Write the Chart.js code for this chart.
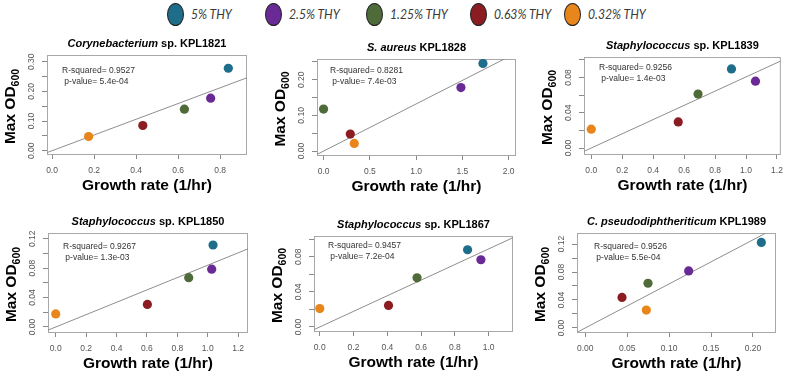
<!DOCTYPE html>
<html>
<head>
<meta charset="utf-8">
<script src="https://cdn.jsdelivr.net/npm/chart.js@4/dist/chart.umd.min.js"></script>
<style>
  body { margin: 0; background: #fff; width: 787px; height: 375px; position: relative; overflow: hidden; }
  canvas { position: absolute; }
  .bola { position: absolute; width: 17px; height: 23px; border: 1px solid #222; border-radius: 50%; box-sizing: border-box; }
  .etiq { position: absolute; font: italic 13.5px Lato, sans-serif; color: #3a3a3a; transform-origin: left center; transform: scaleX(0.9); white-space: nowrap; }
</style>
</head>
<body>
<script>
// Concentraciones de timidina y sus colores
const concentraciones = ["5% THY", "2.5% THY", "1.25% THY", "0.63% THY", "0.32% THY"];
const colores = ["#1d6d8b", "#6a2a95", "#4f6b3a", "#8b1d22", "#e8861c"];

// Nombre de cada cepa (parte en cursiva + resto)
const cepaCursiva = ["Corynebacterium", "S. aureus", "Staphylococcus", "Staphylococcus", "Staphylococcus", "C. pseudodiphtheriticum"];
const cepaResto = ["sp. KPL1821", "KPL1828", "sp. KPL1839", "sp. KPL1850", "sp. KPL1867", "KPL1989"];

// Tasa de crecimiento (1/hr) y OD600 maxima, en el orden de las concentraciones
const tasa1821 = [0.839, 0.755, 0.630, 0.432, 0.174];
const od1821   = [0.278, 0.177, 0.140, 0.085, 0.048];
const tasa1828 = [1.723, 1.485, 0.000, 0.289, 0.332];
const od1828   = [0.2456, 0.178, 0.1176, 0.0476, 0.0215];
const tasa1839 = [0.906, 1.061, 0.690, 0.562, 0.000];
const od1839   = [0.0897, 0.0758, 0.0612, 0.0296, 0.0214];
const tasa1850 = [1.035, 1.026, 0.875, 0.603, 0.000];
const od1850   = [0.1115, 0.0786, 0.0671, 0.0307, 0.0178];
const tasa1867 = [0.875, 0.954, 0.576, 0.407, 0.000];
const od1867   = [0.088, 0.0766, 0.056, 0.0245, 0.021];
const tasa1989 = [0.210, 0.1233, 0.0748, 0.0438, 0.0728];
const od1989   = [0.1223, 0.0816, 0.0639, 0.0437, 0.0255];

// Ajuste lineal (pendiente de la recta) y estadisticos
const pendientes = [0.265, 0.132, 0.0806, 0.084, 0.089, 0.63];
const rCuadrado = ["0.9527", "0.8281", "0.9256", "0.9267", "0.9457", "0.9526"];
const pValor = ["5.4e-04", "7.4e-03", "1.4e-03", "1.3e-03", "7.2e-04", "5.5e-04"];

// Rangos de los ejes y marcas
const xMin = [-0.024, -0.071, -0.047, -0.051, -0.034, -0.0099];
const xMax = [0.928, 2.08, 1.225, 1.265, 1.144, 0.2275];
const yMin = [-0.011, -0.011, -0.0068, -0.0068, -0.0046, -0.0058];
const yMax = [0.3226, 0.258, 0.1032, 0.1278, 0.1037, 0.1358];
const xPaso = [0.2, 0.5, 0.2, 0.2, 0.2, 0.05];
const xDecimales = [1, 1, 1, 1, 1, 2];
const yPaso = [0.05, 0.05, 0.02, 0.02, 0.02, 0.02];
const yEtiquetaCada = [0.1, 0.1, 0.04, 0.04, 0.04, 0.04];

const tasas = [tasa1821, tasa1828, tasa1839, tasa1850, tasa1867, tasa1989];
const ods = [od1821, od1828, od1839, od1850, od1867, od1989];

// Posicion de la caja de cada grafico en la pagina
const cajas = [
  { l: 47, t: 55, r: 247, b: 154, tx: 15, ty: 16 },
  { l: 317, t: 59, r: 516, b: 155, tx: 13, ty: 12 },
  { l: 584, t: 57, r: 784, b: 154, tx: 15, ty: 11 },
  { l: 48, t: 233, r: 248, b: 332, tx: 15, ty: 14 },
  { l: 314, t: 236, r: 513, b: 331, tx: 14, ty: 10 },
  { l: 577, t: 233, r: 776, b: 332, tx: 17, ty: 14 }
];

// Leyenda superior
const bolaX = [175, 273, 374, 478, 572];
concentraciones.forEach((nombre, k) => {
  const bola = document.createElement("div");
  bola.className = "bola";
  bola.style.left = (bolaX[k] - 8.5) + "px";
  bola.style.top = "3px";
  bola.style.background = colores[k];
  document.body.appendChild(bola);
  const etiq = document.createElement("div");
  etiq.className = "etiq";
  etiq.style.left = (bolaX[k] + 16) + "px";
  etiq.style.top = "6px";
  etiq.textContent = nombre;
  document.body.appendChild(etiq);
});

const fuente = '"Liberation Sans", Arial, sans-serif';

// Caja, titulo, textos y nombres de los ejes
const decoracion = {
  id: "decoracion",
  beforeDatasetsDraw(chart, args, o) {
    const { ctx, chartArea: a } = chart;
    ctx.save();
    ctx.strokeStyle = "#a8a8a8";
    ctx.lineWidth = 1;
    ctx.strokeRect(a.left + 0.5, a.top + 0.5, a.right - a.left - 1, a.bottom - a.top);
    ctx.restore();
  },
  afterDraw(chart, args, o) {
    const { ctx, chartArea: a } = chart;
    const cx = (a.left + a.right) / 2;
    ctx.save();
    ctx.fillStyle = "#000";
    ctx.textBaseline = "middle";
    ctx.textAlign = "left";

    // titulo
    ctx.font = "italic bold 11px " + fuente;
    const w1 = ctx.measureText(o.cursiva).width;
    ctx.font = "bold 11px " + fuente;
    const w2 = ctx.measureText(" " + o.resto).width;
    let x0 = cx - (w1 + w2) / 2;
    ctx.font = "italic bold 11px " + fuente;
    ctx.fillText(o.cursiva, x0, a.top - 11);
    ctx.font = "bold 11px " + fuente;
    ctx.fillText(" " + o.resto, x0 + w1, a.top - 11);

    // R cuadrado y p
    ctx.fillStyle = "#333";
    ctx.font = "8.5px " + fuente;
    ctx.fillText("R-squared= " + o.r2, a.left + o.tx, a.top + o.ty);
    ctx.fillText(" p-value= " + o.p, a.left + o.tx, a.top + o.ty + 11);

    // eje x
    ctx.fillStyle = "#000";
    ctx.font = "bold 15.5px " + fuente;
    ctx.textAlign = "center";
    ctx.fillText("Growth rate (1/hr)", cx, a.bottom + 32);

    // eje y con subindice
    ctx.translate(a.left - 36, (a.top + a.bottom) / 2 + 2);
    ctx.rotate(-Math.PI / 2);
    ctx.textAlign = "left";
    ctx.font = "bold 15.5px " + fuente;
    const t1 = ctx.measureText("Max OD").width;
    ctx.font = "bold 10.5px " + fuente;
    const t2 = ctx.measureText("600").width;
    ctx.font = "bold 15.5px " + fuente;
    ctx.fillText("Max OD", -(t1 + t2) / 2, 0);
    ctx.font = "bold 10.5px " + fuente;
    ctx.fillText("600", -(t1 + t2) / 2 + t1, 5);
    ctx.restore();
  }
};

// Crea los seis graficos
tasas.forEach((tasa, i) => {
  const c = cajas[i];
  const lienzo = document.createElement("canvas");
  lienzo.width = c.r - c.l + 54;
  lienzo.height = c.b - c.t + 66;
  lienzo.style.left = (c.l - 48) + "px";
  lienzo.style.top = (c.t - 22) + "px";
  document.body.appendChild(lienzo);

  const puntos = tasa.map((t, k) => ({ x: t, y: ods[i][k] }));
  const recta = [
    { x: xMin[i], y: pendientes[i] * xMin[i] },
    { x: xMax[i], y: pendientes[i] * xMax[i] }
  ];

  new Chart(lienzo, {
    type: "scatter",
    data: {
      datasets: [
        {
          data: puntos,
          pointRadius: 4.6,
          pointBackgroundColor: colores,
          pointBorderColor: colores,
          pointBorderWidth: 0
        },
        {
          data: recta,
          showLine: true,
          borderColor: "#8e8e8e",
          borderWidth: 1,
          pointRadius: 0
        }
      ]
    },
    options: {
      responsive: false,
      animation: false,
      layout: { padding: { left: 28, top: 22, right: 6, bottom: 22 }, autoPadding: false },
      plugins: {
        legend: { display: false },
        tooltip: { enabled: false },
        decoracion: {
          cursiva: cepaCursiva[i], resto: cepaResto[i],
          r2: rCuadrado[i], p: pValor[i], tx: c.tx, ty: c.ty
        }
      },
      scales: {
        x: {
          type: "linear",
          min: xMin[i],
          max: xMax[i],
          afterFit(s) { s.height = 22; },
          border: { display: false },
          grid: { drawOnChartArea: false, tickLength: 5, color: "#8a8a8a" },
          ticks: {
            stepSize: xPaso[i],
            includeBounds: false,
            autoSkip: false,
            minRotation: 0,
            maxRotation: 0,
            padding: 7,
            color: "#555",
            font: { size: 8.5, family: fuente },
            callback: v => v.toFixed(xDecimales[i])
          }
        },
        y: {
          type: "linear",
          min: yMin[i],
          max: yMax[i],
          afterFit(s) { s.width = 20; },
          border: { display: false },
          grid: { drawOnChartArea: false, tickLength: 5, color: "#8a8a8a" },
          ticks: {
            stepSize: yPaso[i],
            includeBounds: false,
            autoSkip: false,
            minRotation: 90,
            maxRotation: 90,
            crossAlign: "center",
            padding: 2,
            color: "#555",
            font: { size: 8.5, family: fuente },
            callback: v => {
              const n = v / yEtiquetaCada[i];
              return Math.abs(n - Math.round(n)) < 1e-6 ? v.toFixed(2) : "";
            }
          }
        }
      }
    },
    plugins: [decoracion]
  });
});
</script>
</body>
</html>
